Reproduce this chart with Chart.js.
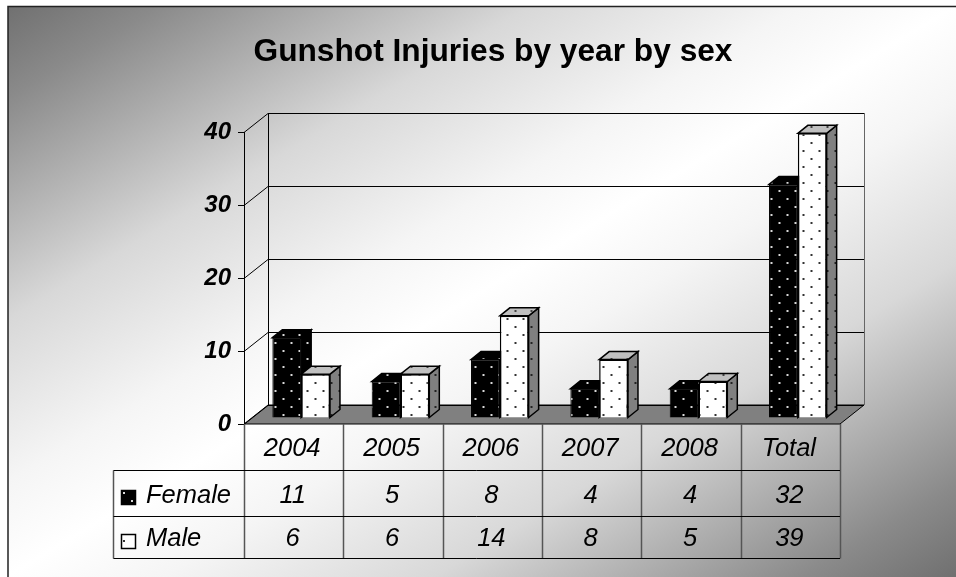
<!DOCTYPE html>
<html><head><meta charset="utf-8">
<style>html,body{margin:0;padding:0;background:#fff}canvas{display:block}#w{width:956px;height:577px;position:relative}</style>
<script src="https://cdn.jsdelivr.net/npm/chart.js@4"></script>
</head><body><div id="w"><canvas id="c" width="956" height="577"></canvas></div>
<script>
const categories = ['2004','2005','2006','2007','2008','Total'];
const femaleValues = [11,5,8,4,4,32];
const maleValues = [6,6,14,8,5,39];
const yTicks = [0,10,20,30,40];
const seriesNames = ['Female','Male'];
const titleText = 'Gunshot Injuries by year by sex';
const FONT = '"Liberation Sans", Arial, sans-serif';
const wallDx = 24, wallDy = -19, barDx = 7.5, barDy = -6, depthDx = 10, depthDy = -8;

function dots(bg, fg){
  const t = document.createElement('canvas'); t.width = t.height = 16;
  const g = t.getContext('2d');
  g.fillStyle = bg; g.fillRect(0,0,16,16);
  g.fillStyle = fg;
  g.fillRect(3,4,2,2); g.fillRect(11,12,2,2);
  return g.createPattern(t,'repeat');
}
const ctxMain = document.getElementById('c').getContext('2d');
const pFemale = dots('#000','#d8d8d8');
const pMale = dots('#fff','#333');
const pMaleTop = dots('#c0c0c0','#444');
const pMaleSide = dots('#808080','#222');

function path(ctx, pts, fill, stroke, lw){
  ctx.beginPath(); pts.forEach((p,i)=> i?ctx.lineTo(p[0],p[1]):ctx.moveTo(p[0],p[1])); ctx.closePath();
  if(fill){ctx.fillStyle=fill;ctx.fill();}
  if(stroke){ctx.strokeStyle=stroke;ctx.lineWidth=lw||1;ctx.stroke();}
}
function faces(chart,index){
  const ctx = chart.ctx, male = index===1;
  chart.getDatasetMeta(index).data.forEach(el=>{
    const l=el.x-el.width/2, r=el.x+el.width/2, t=el.y, b=el.base;
    path(ctx,[[r,t],[r+depthDx,t+depthDy],[r+depthDx,b+depthDy],[r,b]],male?pMaleSide:pFemale,'#000',1.5);
    path(ctx,[[l,t],[l+depthDx,t+depthDy],[r+depthDx,t+depthDy],[r,t]],male?pMaleTop:pFemale,'#000',1.5);
  });
}
const scene = {
  id:'scene',
  beforeDraw(chart){
    const ctx = chart.ctx;
    ctx.save();
    ctx.fillStyle='#fff'; ctx.fillRect(0,0,956,577);
    const g = ctx.createLinearGradient(230,-128,734,710);
    [[0,'#707070'],[0.08,'#8a8a8a'],[0.275,'#d8d8d8'],[0.417,'#f5f5f5'],[0.5,'#ffffff'],
     [0.583,'#f5f5f5'],[0.725,'#d8d8d8'],[0.92,'#8a8a8a'],[1,'#707070']].forEach(s=>g.addColorStop(s[0],s[1]));
    ctx.fillStyle=g; ctx.fillRect(8,6,948,571);
    ctx.strokeStyle='#222'; ctx.lineWidth=1.5;
    ctx.beginPath(); ctx.moveTo(8,577); ctx.lineTo(8,6.5); ctx.lineTo(956,6.5); ctx.stroke();
    ctx.restore();
  },
  beforeDatasetsDraw(chart){
    const ctx = chart.ctx, y = chart.scales.y, a = chart.chartArea;
    const L=a.left, R=a.right, B=a.bottom, T=a.top;
    ctx.save();
    path(ctx,[[L,B],[R,B],[R+wallDx,B+wallDy],[L+wallDx,B+wallDy]],'#808080','#000',1);
    ctx.strokeStyle='#000'; ctx.lineWidth=1;
    yTicks.forEach(v=>{
      const p = Math.round(y.getPixelForValue(v))+.5;
      ctx.beginPath(); ctx.moveTo(L,p); ctx.lineTo(L+wallDx,p+wallDy); ctx.lineTo(R+wallDx,p+wallDy); ctx.stroke();
    });
    ctx.beginPath(); ctx.moveTo(L+wallDx+.5,T+wallDy); ctx.lineTo(L+wallDx+.5,B+wallDy); ctx.stroke();
    ctx.strokeStyle='#666';
    ctx.beginPath(); ctx.moveTo(R+wallDx+.5,T+wallDy); ctx.lineTo(R+wallDx+.5,B+wallDy); ctx.stroke();
    ctx.restore();
    ctx.save(); ctx.translate(barDx,barDy);
  },
  beforeDatasetDraw(chart,args){
    // Male is painted after Female so its front covers Female's depth.
    if(args.index===1) return false;
    faces(chart,0);
  },
  afterDatasetDraw(chart,args){
    if(args.index===0){
      faces(chart,1);
      chart.getDatasetMeta(1).controller.draw();
    }
  },
  afterDatasetsDraw(chart){
    chart.ctx.restore();
  },
  afterDraw(chart){
    const ctx = chart.ctx, x = chart.scales.x, a = chart.chartArea;
    const L=a.left, R=a.right, B=a.bottom;
    const row1=470.5,row2=516.5,row3=558.5,leftEdge=113.5;
    ctx.save();
    ctx.strokeStyle='#555'; ctx.lineWidth=1.5;
    const w=(R-L)/categories.length;
    for(let i=0;i<=categories.length;i++){
      const p=Math.round(L+i*w)+.5;
      ctx.beginPath(); ctx.moveTo(p,B); ctx.lineTo(p,row3); ctx.stroke();
    }
    ctx.beginPath(); ctx.moveTo(leftEdge,row1); ctx.lineTo(leftEdge,row3); ctx.stroke();
    ctx.strokeStyle='#000'; ctx.lineWidth=1;
    [row1,row2,row3].forEach(r=>{ctx.beginPath(); ctx.moveTo(leftEdge,r); ctx.lineTo(R,r); ctx.stroke();});
    ctx.fillStyle='#000'; ctx.textBaseline='middle';
    ctx.font='italic 25.5px '+FONT;
    ctx.textAlign='center';
    [[femaleValues,496],[maleValues,538.5]].forEach(([vals,yy])=>{
      vals.forEach((v,i)=>ctx.fillText(String(v),x.getPixelForValue(i)-1,yy));
    });
    ctx.textAlign='left';
    ctx.fillText(seriesNames[0],146,496);
    ctx.fillText(seriesNames[1],146,538.5);
    path(ctx,[[121.5,490.5],[135.5,490.5],[135.5,504.5],[121.5,504.5]],pFemale,'#000',1.5);
    path(ctx,[[121.5,534.5],[135.5,534.5],[135.5,548.5],[121.5,548.5]],pMale,'#000',1.5);
    ctx.restore();
  }
};
new Chart(ctxMain,{
  type:'bar',
  data:{labels:categories,datasets:[
    {label:seriesNames[0],data:femaleValues,backgroundColor:pFemale,borderColor:'#000',borderWidth:1,clip:false,categoryPercentage:0.58,barPercentage:1},
    {label:seriesNames[1],data:maleValues,backgroundColor:pMale,borderColor:'#000',borderWidth:1.5,clip:false,categoryPercentage:0.58,barPercentage:1}
  ]},
  options:{
    responsive:false,animation:false,
    layout:{padding:{left:146,right:116,top:0,bottom:0}},
    plugins:{
      legend:{display:false},tooltip:{enabled:false},
      title:{display:true,text:titleText,color:'#000',font:{family:FONT,size:31.7,weight:'bold'},padding:{top:33.5,bottom:60.46}}
    },
    scales:{
      x:{type:'category',position:'bottom',grid:{display:false},border:{display:false},
         ticks:{font:{family:FONT,size:25.5,style:'italic'},color:'#000',padding:2,labelOffset:-1.5,maxRotation:0,autoSkip:false},
         afterFit(s){s.height=153;}},
      y:{type:'linear',min:0,max:40,position:'left',
         grid:{drawOnChartArea:false,drawTicks:true,tickLength:6,color:'#000'},
         border:{display:true,color:'#000',width:1},
         ticks:{stepSize:10,font:{family:FONT,size:24,style:'italic',weight:'bold'},color:'#000',padding:7},
         afterFit(s){s.width=98;}}
    }
  },
  plugins:[scene]
});
</script></body></html>
